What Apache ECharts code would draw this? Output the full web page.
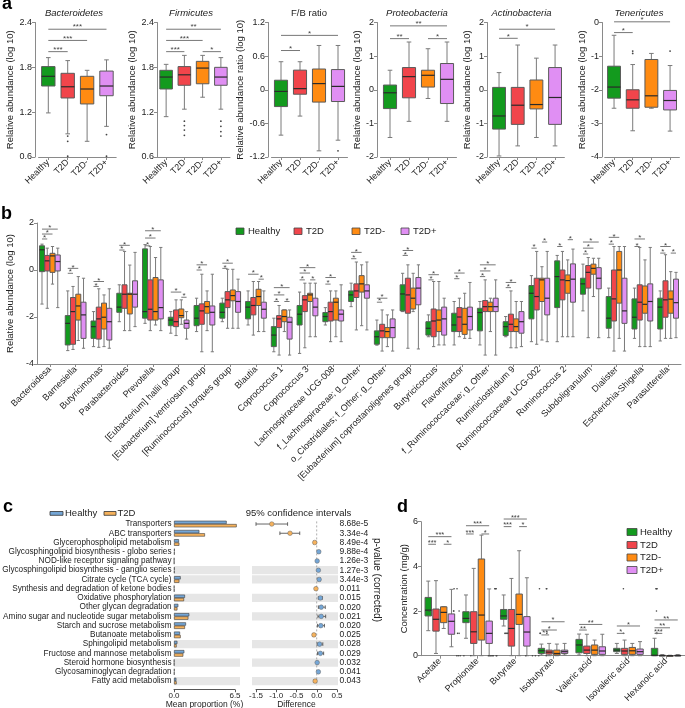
<!DOCTYPE html>
<html><head><meta charset="utf-8">
<script src="https://cdn.jsdelivr.net/npm/echarts@6/dist/echarts.min.js"></script>
<style>html,body{margin:0;padding:0;background:#fff}#c{width:685px;height:708px}</style>
</head><body><div id="c"></div>
<script>
const FONT = 'Liberation Sans, Arial, Helvetica, sans-serif';
const AX = '#8a8a8a', TXT = '#222';
const groups = ['Healthy','T2D','T2D-','T2D+'];
const groupColors = ['#139a1e','#f1454b','#ff8b12','#e08ff3'];

// ---------- Panel a : [min, q1, median, q3, max] per group ----------
const aTitles = ['Bacteroidetes','Firmicutes','F/B ratio','Proteobacteria','Actinobacteria','Tenericutes'];
const aYNames = ['Relative abundance (log 10)','Relative abundance (log 10)','Relative abundance ratio (log 10)','Relative abundance (log 10)','Relative abundance (log 10)','Relative abundance (log 10)'];
const aBacteroidetes = [[1.19,1.55,1.68,1.81,1.93],[0.91,1.39,1.54,1.72,1.89],[0.81,1.31,1.51,1.68,1.76],[1.01,1.42,1.55,1.75,1.90]];
const aFirmicutes = [[1.14,1.51,1.67,1.76,1.84],[1.24,1.56,1.70,1.81,1.96],[1.40,1.58,1.79,1.88,1.96],[1.24,1.56,1.67,1.80,1.93]];
const aFBratio = [[-0.81,-0.30,-0.03,0.17,0.50],[-0.47,-0.08,0.02,0.35,0.50],[-1.09,-0.22,0.11,0.37,0.79],[-0.90,-0.21,0.06,0.36,0.79]];
const aProteobacteria = [[-1.42,-0.56,-0.09,0.14,0.58],[-0.94,-0.24,0.39,0.66,1.42],[-0.26,0.08,0.43,0.58,1.22],[-0.94,-0.41,0.31,0.78,1.42]];
const aActinobacteria = [[-1.97,-1.17,-0.78,0.07,0.51],[-1.67,-1.03,-0.46,0.07,1.33],[-1.42,-0.57,-0.44,0.29,0.94],[-1.67,-1.03,-0.23,0.66,1.33]];
const aTenericutes = [[-2.55,-2.25,-1.92,-1.30,-0.38],[-3.22,-2.55,-2.30,-2.00,-1.25],[-2.55,-2.52,-2.18,-1.10,-0.92],[-3.23,-2.60,-2.32,-2.02,-1.28]];
// outliers: [groupIndex, value]
const aOutBacteroidetes = [[1,0.88],[1,0.81],[1,0.61],[3,0.90],[3,0.61]];
const aOutFirmicutes = [[1,1.08],[1,1.02],[1,0.96],[1,0.89],[3,1.08],[3,1.01],[3,0.94],[3,0.88]];
const aOutFBratio = [[3,-1.09]];
const aOutProteobacteria = [];
const aOutActinobacteria = [];
const aOutTenericutes = [[1,-0.85],[1,-0.92],[3,-0.85]];
// significance: [group1, group2, y, stars]
const aSigBacteroidetes = [[0,1,2.01,'***'],[0,2,2.16,'***'],[0,3,2.31,'***']];
const aSigFirmicutes = [[0,1,2.01,'***'],[0,2,2.16,'***'],[0,3,2.31,'**'],[2,3,2.01,'*']];
const aSigFBratio = [[0,1,0.70,'*'],[0,3,0.97,'*']];
const aSigProteobacteria = [[0,1,1.52,'**'],[0,3,1.90,'**'],[2,3,1.52,'*']];
const aSigActinobacteria = [[0,1,1.53,'*'],[0,3,1.80,'*']];
const aSigTenericutes = [[0,1,-0.30,'*'],[0,3,0.02,'*']];
// y axis [min, max, interval]
const aRanges = [[0.6,2.4,0.6],[0.6,2.4,0.6],[-1.2,1.2,0.6],[-2,2,1],[-2,2,1],[-4,0,1]];

// ---------- Panel b ----------
const bGenera = ['Bacteroidesa','Barnesiella','Butyricimonas','Parabacteroides','Prevotella','[Eubacterium] hallii group','[Eubacterium] ventriosum group','[Ruminococcus] torques group','Blautia','Coprococcus 1','Coprococcus 3','Lachnospiraceae UCG-008','f_Lachnospiraceae; g_Other','o_Clostridiales; f_Other; g_Other','[Eubacterium] coprostanoligenes group','Butyricicoccus','Flavonifractor','f_Ruminococcaceae; g_Other','Ruminiclostridium 9','Ruminococcaceae UCG-002','Ruminococcus 2','Subdoligranulum','Dialister','Escherichia-Shigella','Parasutterella'];
const bHealthy = [[-1.45,-0.07,0.86,1.03,1.1],[-3.43,-3.19,-2.27,-1.94,-0.89],[-3.26,-2.91,-2.41,-2.17,-1.77],[-2.2,-1.8,-1.58,-0.99,-0.63],[-2.27,-2.05,-1.77,0.9,1.08],[-2.69,-2.37,-2.13,-2.01,-1.77],[-2.62,-2.37,-2.05,-1.51,-1.2],[-2.2,-2.05,-1.8,-1.41,-1.2],[-2.34,-2.08,-1.58,-1.34,-0.89],[-3.48,-3.26,-2.77,-2.41,-2.05],[-3.55,-2.34,-1.88,-1.51,-0.94],[-2.34,-2.2,-1.98,-1.81,-1.6],[-1.56,-1.34,-1.06,-0.89,-0.56],[-3.2,-3.16,-2.84,-2.59,-2.13],[-1.77,-1.74,-1.02,-0.63,-0.14],[-2.84,-2.77,-2.48,-2.2,-1.91],[-3.19,-2.62,-2.34,-1.84,-1.34],[-3.19,-2.59,-1.81,-1.63,-1.34],[-2.84,-2.79,-2.41,-2.2,-1.98],[-3.05,-2.08,-0.99,-0.66,-0.24],[-3.05,-1.6,-0.28,0.39,0.62],[-1.74,-1.03,-0.59,-0.35,0.25],[-2.88,-2.48,-2.05,-1.13,-0.77],[-2.91,-2.51,-2.01,-1.23,-0.77],[-3.02,-2.51,-1.58,-1.2,-0.89]];
const bT2D = [[-1.63,-0.04,0.39,0.62,0.93],[-3.38,-3.16,-1.77,-1.17,-0.70],[-3.29,-2.94,-2.08,-1.58,-0.8],[-2.58,-1.63,-1.03,-0.63,0.79],[-2.58,-2.13,-1.67,-0.42,1.0],[-2.79,-2.41,-2.2,-1.7,-1.27],[-3.48,-2.31,-1.74,-1.44,-0.18],[-2.48,-1.6,-1.27,-0.92,0.03],[-2.77,-1.91,-1.51,-1.17,-0.49],[-3.62,-2.45,-2.08,-1.94,-1.51],[-3.31,-1.77,-1.27,-1.09,-0.56],[-3.05,-2.17,-1.77,-1.37,-0.89],[-2.55,-1.17,-0.89,-0.59,0.34],[-3.45,-2.88,-2.59,-2.31,-1.7],[-3.33,-1.84,-1.06,-0.35,0.22],[-3.26,-2.84,-2.17,-1.66,-0.49],[-2.84,-2.62,-2.0,-1.6,-1.2],[-3.62,-1.77,-1.56,-1.3,-0.42],[-3.31,-2.62,-2.31,-1.88,-0.89],[-3.16,-1.7,-1.13,-0.35,0.79],[-2.84,-1.27,-0.42,0,0.79],[-2.88,-0.77,-0.1,0.19,0.53],[-3.45,-2.17,-1.23,0,1.0],[-3.26,-2.13,-1.37,-0.63,0.96],[-2.91,-2.01,-1.27,-0.46,0.65]];
const bT2Dminus = [[-0.6,-0.10,0.60,0.71,1.0],[-3.0,-2.13,-1.53,-1.03,-0.28],[-3.26,-2.51,-2.01,-1.41,-1.06],[-2.58,-1.87,-1.03,-0.99,0.21],[-2.34,-2.13,-1.77,-0.32,0.53],[-2.31,-2.03,-1.94,-1.66,-1.27],[-2.58,-1.84,-1.56,-1.34,-0.89],[-2.48,-1.31,-1.09,-0.85,0.03],[-2.62,-1.51,-1.13,-0.82,-0.49],[-2.62,-2.2,-1.98,-1.7,-1.7],[-2.84,-1.34,-1.06,-0.99,-0.56],[-2.84,-2.13,-1.37,-1.2,-0.89],[-2.37,-0.94,-0.59,-0.24,0.22],[-3.26,-2.88,-2.62,-2.45,-1.91],[-1.77,-1.66,-1.2,-0.77,-0.14],[-3.19,-2.62,-2.13,-1.7,-0.49],[-2.91,-2.74,-2.31,-1.63,-0.99],[-2.62,-1.77,-1.56,-1.37,-1.2],[-3.31,-2.62,-2.41,-2.08,-1.34],[-2.98,-1.34,-0.42,-0.35,0.14],[-2.84,-0.99,-0.45,-0.21,0.43],[-1.13,-0.18,0.07,0.25,0.5],[-2.91,-1.41,0,0.79,1.0],[-3.26,-1.84,-1.46,-0.68,0.43],[-2.91,-1.84,-1.24,-0.89,-0.07]];
const bT2Dplus = [[-1.6,-0.04,0.36,0.64,0.93],[-3.33,-2.91,-1.91,-1.37,-0.35],[-3.33,-2.98,-2.2,-1.63,-0.8],[-2.41,-1.58,-1.03,-0.46,0.75],[-2.58,-2.08,-1.6,-0.42,0.96],[-2.94,-2.48,-2.27,-2.13,-1.77],[-3.48,-2.34,-1.8,-1.53,-0.18],[-2.48,-1.8,-1.34,-0.92,-0.39],[-2.62,-2.05,-1.67,-1.37,-0.89],[-3.62,-2.94,-2.22,-2.01,-1.7],[-2.84,-1.95,-1.58,-1.2,-0.56],[-3.05,-2.17,-1.88,-1.7,-0.63],[-2.55,-1.2,-0.89,-0.63,0.34],[-3.45,-2.88,-2.45,-2.08,-1.7],[-3.36,-1.48,-0.77,-0.32,0.22],[-3.19,-2.77,-2.08,-1.58,-1.2],[-2.91,-2.55,-1.98,-1.58,-0.53],[-3.62,-1.77,-1.56,-1.2,-0.42],[-3.26,-2.69,-2.2,-1.77,-1.34],[-3.05,-1.91,-1.2,-0.35,0.79],[-2.84,-1.37,-0.39,0.26,0.89],[-2.88,-0.8,-0.35,0.1,0.5],[-3.45,-2.27,-1.74,-0.35,1.0],[-3.26,-2.17,-1.34,-0.59,0.96],[-2.88,-2.05,-1.39,-0.39,-0.1]];
// significance: [genus, group1, group2, y]
const bSig = [[0,0,1,1.32],[0,0,2,1.53],[0,0,3,1.74],[1,0,1,-0.14],[1,0,2,0.07],[2,0,1,-0.7],[2,0,2,-0.49],[3,0,1,0.85],[3,0,2,1.05],[4,0,1,1.03],[4,0,2,1.36],[4,0,3,1.67],[5,0,2,-0.94],[5,2,3,-1.16],[6,0,1,0],[6,0,2,0.22],[7,0,1,0.07],[7,0,2,0.29],[8,0,2,-0.18],[8,2,3,-0.39],[9,0,1,-1.34],[9,0,2,-1.06],[9,0,3,-0.75],[9,2,3,-1.34],[10,0,1,-0.42],[10,0,2,-0.13],[10,0,3,0.1],[10,2,3,-0.42],[11,0,1,-0.6],[11,0,2,-0.32],[12,0,1,0.48],[12,0,2,0.75],[13,0,1,-1.37],[13,0,2,-1.2],[14,0,1,0.62],[14,0,2,0.83],[15,0,1,-0.42],[15,0,2,-0.2],[16,0,1,-0.37],[16,0,2,-0.13],[17,0,1,-0.28],[17,0,2,-0.04],[17,0,3,0.22],[18,0,1,-0.75],[18,0,2,-0.53],[19,0,1,0.93],[19,2,3,1.19],[20,0,1,1.0],[20,2,3,1.29],[21,0,1,0.68],[21,0,2,0.93],[21,0,3,1.19],[22,0,1,1.1],[22,0,2,1.39],[23,0,1,1.0],[23,0,2,1.32],[24,0,1,0.72],[24,0,2,1.0],[24,2,3,0.72]];

// ---------- Panel c ----------
const cPathways = ['Transporters','ABC transporters','Glycerophospholipid metabolism','Glycosphingolipid biosynthesis - globo series','NOD-like receptor signaling pathway','Glycosphingolipid biosynthesis - ganglio series','Citrate cycle (TCA cycle)','Synthesis and degradation of ketone bodies','Oxidative phosphorylation','Other glycan degradation','Amino sugar and nucleotide sugar metabolism','Starch and sucrose metabolism','Butanoate metabolism','Sphingolipid metabolism','Fructose and mannose metabolism','Steroid hormone biosynthesis','Glycosaminoglycan degradation','Fatty acid metabolism'];
const cHealthy = [5.61,2.70,0.53,0.08,0.03,0.07,0.71,0.03,1.17,0.46,1.63,1.28,0.64,0.36,1.10,0.03,0.06,0.25];
const cT2D = [6.68,3.30,0.57,0.07,0.03,0.06,0.57,0.04,1.07,0.36,1.53,1.17,0.71,0.28,0.99,0.03,0.05,0.28];
const cDiff = [-1.11,-0.66,-0.05,0.05,0.01,0.04,0.06,-0.02,0.09,0.11,0.11,0.10,-0.07,0.07,0.09,0.01,0.04,-0.04];
const cLow = [-1.50,-0.91,-0.08,0.03,0.00,0.02,0.03,-0.03,0.04,0.04,0.03,0.02,-0.10,0.01,0.02,0.00,0.02,-0.07];
const cHigh = [-0.72,-0.42,-0.02,0.07,0.02,0.06,0.09,-0.01,0.14,0.21,0.22,0.19,-0.04,0.15,0.17,0.02,0.06,-0.01];
const cP = ['8.68e-5','3.34e-4','8.49e-4','9.88e-4','1.26e-3','1.27e-3','3.44e-3','0.011','0.015','0.020','0.021','0.020','0.025','0.028','0.029','0.032','0.041','0.043'];
const cShaded = [5,6,8,10,13,15,17];
const cColors = ['#74a6d6','#f6b25c'];

// ---------- Panel d ----------
const dAcids = ['Acetate','Propionate','Butyrate','Isobutyrate','Valeric acid','Isovaleric acid','Hexanoic acid'];
const dHealthy = [[1.12,1.78,2.04,2.61,3.34],[0.78,1.48,1.67,1.97,2.72],[1.33,1.63,1.78,2.07,2.72],[0.03,0.10,0.22,0.33,0.52],[0.03,0.13,0.48,0.73,0.97],[0.10,0.18,0.25,0.33,0.55],[0,0,0.02,0.33,0.78]];
const dT2D = [[0.10,1.10,1.63,2.09,3.36],[0,0.55,1.07,1.97,3.91],[0,0.43,1.22,2.07,3.46],[0,0.07,0.16,0.25,0.55],[0,0.10,0.25,0.43,0.96],[0,0.06,0.21,0.33,0.70],[0,0,0,0.02,0.05]];
const dT2Dminus = [[1.22,1.48,1.94,2.19,2.19],[0,0.70,1.82,4.33,5.40],[0,1.40,1.85,2.76,4.70],[0,0.03,0.10,0.25,0.52],[0,0.06,0.25,0.48,0.70],[0,0.06,0.22,0.37,0.55],[0,0,0,0,0.02]];
const dT2Dplus = [[0.40,0.96,1.54,1.87,2.97],[0,0.55,1.00,1.55,2.99],[0,0.43,1.06,1.75,3.49],[0.03,0.10,0.18,0.25,0.55],[0,0.06,0.21,0.40,0.96],[0,0.06,0.18,0.30,0.63],[0,0,0,0.02,0.05]];
// outliers: [acid, group, value]
const dOutliers = [[0,0,3.69],[0,0,3.88],[0,0,4.13],[0,0,4.61],[0,1,3.79],[0,1,3.99],[0,2,3.99],[0,2,3.31],[0,2,3.27],[0,2,0.12],[0,3,3.34],[0,3,3.72],
 [1,0,0.63],[1,0,2.94],[1,0,3.1],[1,0,3.25],[1,0,3.4],[1,0,3.54],[1,0,3.91],[1,0,3.99],[1,1,5.03],[1,1,5.15],[1,1,5.28],[1,1,5.4],[1,3,3.72],[1,3,3.82],[1,3,3.91],
 [2,0,2.87],[2,0,3.72],[2,0,4.1],[2,0,4.54],[2,0,5.5],[2,1,4.7],[2,1,4.75],[2,3,4.63],
 [3,1,0.7],[3,3,0.7],[3,3,0.63],[5,1,0.85],[5,3,0.85],[6,1,0.2],[6,1,0.28],[6,1,0.33],[6,2,0.25],[6,3,0.18],[6,3,0.25],[6,3,0.33]];
// significance: [acid, group1, group2, y, stars]
const dSig = [[0,0,1,4.99,'***'],[0,2,3,4.99,'*'],[0,0,3,5.33,'***'],[1,0,1,5.45,'***'],[1,2,3,5.45,'*'],[1,0,3,5.82,'***'],[2,0,1,5.78,'***'],[2,2,3,5.78,'*'],[2,0,3,6.12,'***'],[3,0,1,0.93,'**'],[3,0,2,1.15,'*'],[3,0,3,1.52,'*'],[4,0,1,1.15,'**'],[4,0,3,1.40,'**'],[5,0,1,1.0,'*'],[5,0,3,1.33,'*'],[6,0,1,1.0,'***'],[6,0,2,1.25,'**'],[6,0,3,1.6,'**']];

// ================= builders =================
const option = {animation:false, backgroundColor:'#fff', textStyle:{fontFamily:FONT}, grid:[], xAxis:[], yAxis:[], series:[], graphic:[]};
function addGrid(g){ option.grid.push(Object.assign({outerBoundsMode:'none', containLabel:false}, g)); return option.grid.length-1; }
function fmtNum(v){ if (Math.abs(v)<1e-9) return '0'; const r=Math.round(v*100)/100; return Number.isInteger(r)? String(r) : r.toFixed(1); }
function valueAxis(gi, rng, extra){
  return Object.assign({gridIndex:gi, type:'value', min:rng[0], max:rng[1], interval:rng[2],
    axisLine:{show:true, onZero:false, lineStyle:{color:AX, width:1}}, axisTick:{show:true, length:3, lineStyle:{color:AX}},
    splitLine:{show:false}, axisLabel:{fontSize:9, color:TXT, margin:3, fontFamily:FONT, formatter:fmtNum}}, extra||{});
}
function catAxis(gi, data, extra){
  return Object.assign({gridIndex:gi, type:'category', data:data,
    axisLine:{show:true, onZero:false, lineStyle:{color:AX, width:1}}, axisTick:{show:true, length:3, alignWithLabel:true, lineStyle:{color:AX}},
    axisLabel:{rotate:45, fontSize:9, color:TXT, margin:4, interval:0, fontFamily:FONT}}, extra||{});
}
function xPos(api, cat, g, cfg){
  const base = api.coord([cat, 0])[0];
  if (cfg.nG === 1) return base;
  const band = api.size([1,0])[0];
  return base + (g-(cfg.nG-1)/2)*cfg.step*band;
}
function boxRender(cfg){
  return function(params, api){
    const cat = api.value(0), g = api.value(6);
    const cx = xPos(api, cat, g, cfg);
    const band = api.size([1,0])[0];
    const hw = cfg.w*band/2;
    const ys = [1,2,3,4,5].map(i=>api.coord([cat, api.value(i)])[1]);
    const col = cfg.byCat ? groupColors[cat] : groupColors[g];
    const ws = {stroke:'#7a7a7a', lineWidth:1};
    const cap = cfg.cap;
    return {type:'group', children:[
      {type:'line', shape:{x1:cx,y1:ys[4],x2:cx,y2:ys[3]}, style:ws},
      {type:'line', shape:{x1:cx,y1:ys[1],x2:cx,y2:ys[0]}, style:ws},
      {type:'line', shape:{x1:cx-cap,y1:ys[4],x2:cx+cap,y2:ys[4]}, style:ws},
      {type:'line', shape:{x1:cx-cap,y1:ys[0],x2:cx+cap,y2:ys[0]}, style:ws},
      {type:'rect', shape:{x:cx-hw,y:ys[3],width:2*hw,height:Math.max(ys[1]-ys[3],0.6)}, style:{fill:col, stroke:'#5a5a5a', lineWidth:1}},
      {type:'line', shape:{x1:cx-hw,y1:ys[2],x2:cx+hw,y2:ys[2]}, style:{stroke:'#2a2a2a', lineWidth:1.2}}
    ]};
  };
}
function outRender(cfg){
  return function(params, api){
    const cat = api.value(0);
    const cx = xPos(api, cat, api.value(2), cfg);
    const cy = api.coord([cat, api.value(1)])[1];
    return {type:'circle', shape:{cx:cx, cy:cy, r:cfg.r}, style:{fill:'#444'}};
  };
}
function sigRender(arr, cfg){
  return function(params, api){
    const b = arr[params.dataIndex];
    const x1 = xPos(api, b[0], b[1], cfg), x2 = xPos(api, b[2], b[3], cfg);
    const y = api.coord([b[0], b[4]])[1];
    return {type:'group', children:[
      {type:'line', shape:{x1:x1,y1:y,x2:x2,y2:y}, style:{stroke:'#777', lineWidth:1}},
      {type:'text', x:(x1+x2)/2, y:y+cfg.ty, style:{text:b[5], fontSize:cfg.sf, fontFamily:FONT, fill:'#444', align:'center', verticalAlign:'bottom'}}
    ]};
  };
}
function addBoxSet(xi, yi, boxesByGroup, outliers, sigs, cfg){
  const data = [];
  boxesByGroup.forEach((arr, g)=> arr.forEach((b,k)=>{ if (cfg.nG===1) data.push([g, ...b, 0]); else data.push([k, ...b, g]); }));
  option.series.push({type:'custom', xAxisIndex:xi, yAxisIndex:yi, clip:false, z:3, renderItem:boxRender(cfg), data:data, silent:true});
  if (outliers.length) option.series.push({type:'custom', xAxisIndex:xi, yAxisIndex:yi, clip:false, z:4, renderItem:outRender(cfg), data:outliers, silent:true});
  if (sigs.length) option.series.push({type:'custom', xAxisIndex:xi, yAxisIndex:yi, clip:false, z:4, renderItem:sigRender(sigs, cfg), data:sigs.map(s=>[s[0], s[4]]), silent:true});
}
function gText(x, y, text, o){
  o = o || {};
  return Object.assign({type:'text', x:x, y:y, silent:true, style:{text:text, fontSize:o.size||9, fontFamily:FONT, fontStyle:o.style||'normal', fontWeight:o.weight||'normal', fill:o.fill||TXT,
    align:o.align||'left', textAlign:o.align||'left', verticalAlign:o.va||'middle', textVerticalAlign:o.va||'middle'}}, o.rotation!=null?{rotation:o.rotation}:{});
}
function gRect(x, y, w, h, fill, stroke){ return {type:'rect', silent:true, shape:{x:x,y:y,width:w,height:h}, style:{fill:fill, stroke:stroke||'#444', lineWidth:0.8}}; }

// ---------- Panel a build ----------
const aBoxes = [aBacteroidetes, aFirmicutes, aFBratio, aProteobacteria, aActinobacteria, aTenericutes];
const aOuts = [aOutBacteroidetes, aOutFirmicutes, aOutFBratio, aOutProteobacteria, aOutActinobacteria, aOutTenericutes];
const aSigs = [aSigBacteroidetes, aSigFirmicutes, aSigFBratio, aSigProteobacteria, aSigActinobacteria, aSigTenericutes];
const aLayout = [
  {left:38.6, width:77.6, off:3.6, gap:14, tx:74},
  {left:157, width:73, off:0, gap:14, tx:191},
  {left:271.5, width:76, off:3.5, gap:17, tx:309},
  {left:380.5, width:76, off:3.5, gap:11, tx:417},
  {left:489.7, width:74.7, off:2.7, gap:13, tx:521.5},
  {left:604.7, width:74.7, off:2.7, gap:12, tx:639}
];
aBoxes.forEach((boxes, i)=>{
  const L = aLayout[i];
  const gi = addGrid({left:L.left, top:22.5, width:L.width, height:134.5});
  option.xAxis.push(catAxis(gi, groups));
  const xi = option.xAxis.length-1;
  option.yAxis.push(valueAxis(gi, aRanges[i], {offset:L.off, name:aYNames[i], nameLocation:'middle', nameGap:L.gap, nameTextStyle:{fontSize:9.5, color:TXT, fontFamily:FONT}}));
  const yi = option.yAxis.length-1;
  const outs = aOuts[i].map(o=>[o[0], o[1], 0]);
  const sigs = aSigs[i].map(s=>[s[0], 0, s[1], 0, s[2], s[3]]);
  addBoxSet(xi, yi, boxes.map(b=>[b]), outs, sigs, {nG:1, w:0.69, cap:2.3, byCat:true, r:0.9, sf:8, ty:2});
  option.graphic.push(gText(L.tx, 13, aTitles[i], {size:9.5, align:'center', style: i===2?'normal':'italic'}));
});

// ---------- Panel b build ----------
{
  const gi = addGrid({left:37, top:223, width:644, height:141});
  option.xAxis.push(catAxis(gi, bGenera, {axisLabel:{rotate:45, fontSize:9, color:TXT, margin:4, interval:0, fontFamily:FONT}}));
  const xi = option.xAxis.length-1;
  option.yAxis.push(valueAxis(gi, [-4,2,2], {name:'Relative abundance (log 10)', nameLocation:'middle', nameGap:17, nameTextStyle:{fontSize:9.5, color:TXT, fontFamily:FONT}}));
  const yi = option.yAxis.length-1;
  const sigs = bSig.map(s=>[s[0], s[1], s[0], s[2], s[3], '*']);
  addBoxSet(xi, yi, [bHealthy, bT2D, bT2Dminus, bT2Dplus], [], sigs, {nG:4, step:0.204, w:0.194, cap:1.6, byCat:false, r:0.8, sf:8, ty:3});
  const lx = [236, 294, 352, 401];
  groups.forEach((g,k)=>{ option.graphic.push(gRect(lx[k], 228, 8, 6.5, groupColors[k])); option.graphic.push(gText(lx[k]+12, 231.5, g, {size:9.5})); });
}

// ---------- Panel c build ----------
{
  const top = 519.4, h = 166.3;
  const g1 = addGrid({left:174, top:top, width:61, height:h});
  option.xAxis.push({gridIndex:g1, type:'value', min:0, max:6.5, interval:6.5, offset:4,
    axisLine:{show:true, onZero:false, lineStyle:{color:'#555'}}, axisTick:{show:true, length:2.5, lineStyle:{color:'#555'}}, splitLine:{show:false},
    axisLabel:{fontSize:8, color:TXT, margin:2, formatter:v=>v.toFixed(1), fontFamily:FONT},
    name:'Mean proportion (%)', nameLocation:'middle', nameGap:10.5, nameTextStyle:{fontSize:8.5, color:TXT, fontFamily:FONT}});
  const x1 = option.xAxis.length-1;
  option.yAxis.push({gridIndex:g1, type:'category', inverse:true, data:cPathways, axisLine:{show:false}, axisTick:{show:false},
    axisLabel:{fontSize:8.2, color:TXT, margin:2.5, interval:0, fontFamily:FONT}});
  const y1 = option.yAxis.length-1;
  const bandRender = (dx0, dx1)=> function(params, api){
    const yc = api.coord([0, api.value(1)])[1];
    const cs = params.coordSys;
    return {type:'rect', shape:{x:cs.x+dx0, y:yc-4.1, width:cs.width-dx0+dx1, height:8.2}, style:{fill:'#e6e6e6'}};
  };
  option.series.push({type:'custom', xAxisIndex:x1, yAxisIndex:y1, clip:false, z:0, silent:true, renderItem:bandRender(0, 5), data:cShaded.map(r=>[0, r])});
  option.series.push({type:'bar', name:'Healthy', xAxisIndex:x1, yAxisIndex:y1, data:cHealthy, barWidth:3.3, barGap:'0%', clip:false, z:3, silent:true, itemStyle:{color:cColors[0], borderColor:'#3d3d3d', borderWidth:0.6}});
  option.series.push({type:'bar', name:'T2D', xAxisIndex:x1, yAxisIndex:y1, data:cT2D, barWidth:3.3, barGap:'0%', clip:false, z:3, silent:true, itemStyle:{color:cColors[1], borderColor:'#3d3d3d', borderWidth:0.6}});

  const g2 = addGrid({left:256, top:top, width:81, height:h});
  option.xAxis.push({gridIndex:g2, type:'value', min:-1.5, max:0.5, interval:0.5, offset:4,
    axisLine:{show:true, onZero:false, lineStyle:{color:'#555'}}, axisTick:{show:true, length:2.5, lineStyle:{color:'#555'}}, splitLine:{show:false},
    axisLabel:{fontSize:8, color:TXT, margin:2, formatter:v=>v.toFixed(1), fontFamily:FONT},
    name:'Difference', nameLocation:'middle', nameGap:10.5, nameTextStyle:{fontSize:8.5, color:TXT, fontFamily:FONT}});
  const x2 = option.xAxis.length-1;
  option.yAxis.push({gridIndex:g2, type:'category', inverse:true, data:cPathways, axisLine:{show:false}, axisTick:{show:false}, axisLabel:{show:false}});
  const y2 = option.yAxis.length-1;
  option.yAxis.push({gridIndex:g2, type:'category', inverse:true, position:'right', data:cP, axisLine:{show:false}, axisTick:{show:false},
    axisLabel:{fontSize:8.5, color:TXT, margin:2.5, interval:0, fontFamily:FONT}});
  option.series.push({type:'custom', xAxisIndex:x2, yAxisIndex:y2, clip:false, z:0, silent:true, renderItem:bandRender(-4, 1), data:cShaded.map(r=>[0, r])});
  option.series.push({type:'custom', xAxisIndex:x2, yAxisIndex:y2, clip:false, z:1, silent:true, data:[[0,0]], renderItem:function(params, api){
    const x = api.coord([0,0])[0], cs = params.coordSys;
    return {type:'line', shape:{x1:x, y1:cs.y+2, x2:x, y2:cs.y+cs.height}, style:{stroke:'#9a9a9a', lineWidth:0.8, lineDash:[2,2]}};
  }});
  option.series.push({type:'custom', xAxisIndex:x2, yAxisIndex:y2, clip:false, z:3, silent:true, data:cDiff.map((d,i)=>[d, i, cLow[i], cHigh[i]]), renderItem:function(params, api){
    const i = api.value(1);
    const yc = api.coord([0, i])[1];
    const xl = api.coord([api.value(2), i])[0], xh = api.coord([api.value(3), i])[0], xd = api.coord([api.value(0), i])[0];
    const col = api.value(0) < 0 ? cColors[1] : cColors[0];
    const ls = {stroke:'#555', lineWidth:0.9};
    return {type:'group', children:[
      {type:'line', shape:{x1:xl,y1:yc,x2:xh,y2:yc}, style:ls},
      {type:'line', shape:{x1:xl,y1:yc-1.8,x2:xl,y2:yc+1.8}, style:ls},
      {type:'line', shape:{x1:xh,y1:yc-1.8,x2:xh,y2:yc+1.8}, style:ls},
      {type:'circle', shape:{cx:xd, cy:yc, r:2.3}, style:{fill:col, stroke:'#666', lineWidth:0.5}}
    ]};
  }});
  option.graphic.push(gRect(50, 511.5, 13, 3.8, cColors[0], '#333'));
  option.graphic.push(gText(65, 513.5, 'Healthy', {size:9.5}));
  option.graphic.push(gRect(104, 511.5, 12, 3.8, cColors[1], '#333'));
  option.graphic.push(gText(117.5, 513.5, 'T2D', {size:9.5}));
  option.graphic.push(gText(298.5, 513.5, '95% confidence intervals', {size:9.5, align:'center'}));
  option.graphic.push(gText(377, 580, 'p-value (corrected)', {size:10, align:'center', rotation:-Math.PI/2}));
}

// ---------- Panel d build ----------
{
  const gi = addGrid({left:421, top:521.7, width:264, height:134});
  option.xAxis.push(catAxis(gi, dAcids));
  const xi = option.xAxis.length-1;
  option.yAxis.push(valueAxis(gi, [0,6,2], {name:'Concentration (mg/g)', nameLocation:'middle', nameGap:12, nameTextStyle:{fontSize:9.5, color:TXT, fontFamily:FONT}}));
  const yi = option.yAxis.length-1;
  const sigs = dSig.map(s=>[s[0], s[1], s[0], s[2], s[3], s[4]]);
  addBoxSet(xi, yi, [dHealthy, dT2D, dT2Dminus, dT2Dplus], dOutliers, sigs, {nG:4, step:0.205, w:0.17, cap:2, byCat:false, r:0.8, sf:7.5, ty:2.5});
  const ly = [532, 545, 557.5, 570];
  groups.forEach((g,k)=>{ option.graphic.push(gRect(627, ly[k]-3.5, 10, 7, groupColors[k])); option.graphic.push(gText(640, ly[k], g, {size:9.5})); });
}

// ---------- panel letters ----------
option.graphic.push(gText(2, 4.5, 'a', {size:18, weight:'bold', fill:'#000'}));
option.graphic.push(gText(1, 214, 'b', {size:18, weight:'bold', fill:'#000'}));
option.graphic.push(gText(3, 507, 'c', {size:18, weight:'bold', fill:'#000'}));
option.graphic.push(gText(397, 507, 'd', {size:18, weight:'bold', fill:'#000'}));

const chart = echarts.init(document.getElementById('c'), null, {renderer:'canvas', width:685, height:708});
chart.setOption(option);
</script></body></html>
